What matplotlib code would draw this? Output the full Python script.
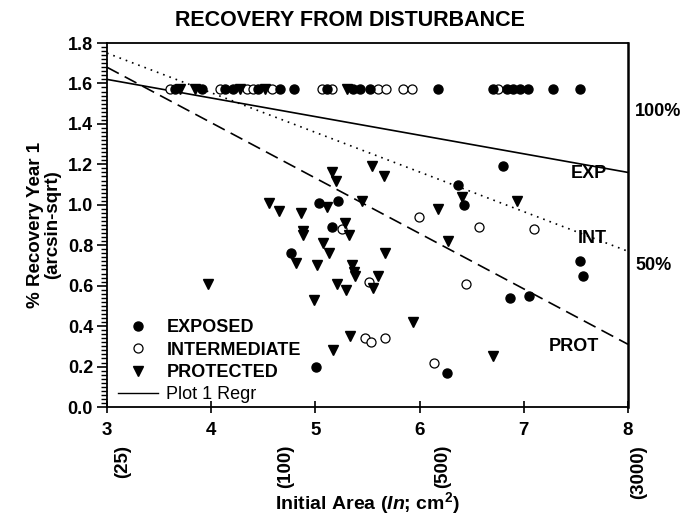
import numpy as np
import matplotlib
matplotlib.use("Agg")
import matplotlib.pyplot as plt
import matplotlib.transforms as mtransforms

plt.rcParams['font.family'] = ['Liberation Sans', 'DejaVu Sans']
plt.rcParams['mathtext.fontset'] = 'custom'
plt.rcParams['mathtext.rm'] = 'Liberation Sans:bold'
plt.rcParams['mathtext.it'] = 'Liberation Sans:italic:bold'
plt.rcParams['mathtext.bf'] = 'Liberation Sans:bold'

# ---- data (ln initial area, arcsin-sqrt recovery) ----
full_rec = np.pi / 2  # 100% recovery

exp_top_x = [3.65, 3.91, 4.13, 4.21, 4.45, 4.66, 4.79, 5.11, 5.36, 5.43, 5.52,
             6.18, 6.70, 6.84, 6.90, 6.96, 7.04, 7.28, 7.54]
exp_x = [5.03, 5.22, 5.16, 4.77, 5.01, 6.80, 6.37, 6.43, 7.54, 7.57, 6.87, 7.05, 6.26]
exp_y = [1.01, 1.02, 0.89, 0.76, 0.20, 1.19, 1.10, 1.00, 0.72, 0.65, 0.54, 0.55, 0.17]

int_top_x = [3.60, 4.08, 4.34, 4.40, 4.58, 5.06, 5.16, 5.60, 5.68, 5.84, 5.93, 6.75]
int_x = [5.26, 5.51, 5.48, 5.53, 5.67, 5.99, 6.57, 7.10, 6.45, 6.14]
int_y = [0.88, 0.62, 0.34, 0.32, 0.34, 0.94, 0.89, 0.88, 0.61, 0.22]

prot_top_x = [3.70, 3.84, 4.28, 4.52, 5.30]
prot_x = [5.54, 5.66, 5.16, 5.20, 4.55, 4.65, 4.86, 5.11, 5.45, 5.28, 5.32, 4.88,
          4.88, 5.07, 5.13, 5.67, 4.81, 5.02, 5.35, 5.37, 5.38, 5.60, 5.55, 5.21,
          5.29, 3.97, 4.99, 5.33, 5.17, 6.41, 6.93, 6.18, 6.27, 5.94, 6.70]
prot_y = [1.19, 1.14, 1.16, 1.12, 1.01, 0.97, 0.96, 0.99, 1.02, 0.91, 0.85, 0.87,
          0.85, 0.81, 0.76, 0.76, 0.71, 0.70, 0.70, 0.67, 0.65, 0.65, 0.59, 0.61,
          0.58, 0.61, 0.53, 0.35, 0.28, 1.04, 1.02, 0.98, 0.82, 0.42, 0.25]

# regression lines: intercept, slope
reg_names = ['EXP', 'INT', 'PROT']
reg_intercept = [1.896, 2.338, 2.502]
reg_slope = [-0.092, -0.196, -0.274]
reg_label_x = [7.80, 7.80, 7.72]
reg_label_y = [1.155, 0.835, 0.30]

area_cm2 = [25, 100, 500, 3000]
area_nudge = [-0.07, 0.11, 0.01, 0.10]   # hand placement in the original

fig = plt.figure(figsize=(6.82, 5.2), dpi=100)
ax = fig.add_axes([107/682, 1 - 407/520, 521/682, 364/520])

ms = 6.5
ax.plot(int_top_x, [full_rec]*len(int_top_x), 'o', mfc='white', mec='black', ms=ms, mew=0.9, zorder=3)
ax.plot(exp_top_x, [full_rec]*len(exp_top_x), 'o', color='black', ms=ms, zorder=3)
ax.plot(prot_top_x, [full_rec]*len(prot_top_x), 'v', color='black', ms=ms, zorder=3)

h_exp, = ax.plot(exp_x, exp_y, 'o', color='black', ms=ms, zorder=3)
h_int, = ax.plot(int_x, int_y, 'o', mfc='white', mec='black', ms=ms, mew=0.9, zorder=3)
h_prot, = ax.plot(prot_x, prot_y, 'v', color='black', ms=ms, zorder=3)

xs = np.array([3, 8])
styles = ['-', (0, (1, 3)), (0, (8, 4))]
for i in range(3):
    ax.plot(xs, reg_intercept[i] + reg_slope[i]*xs, color='black', lw=1.2,
            linestyle=styles[i], zorder=2)
    ax.text(reg_label_x[i], reg_label_y[i], reg_names[i], ha='right', va='center',
            fontsize=13, fontweight='bold')

h_line, = ax.plot([], [], '-', color='black', lw=1.0)

leg = ax.legend([h_exp, h_int, h_prot, h_line],
                ['EXPOSED', 'INTERMEDIATE', 'PROTECTED', 'Plot 1 Regr'],
                loc='lower left', bbox_to_anchor=(0.015, 0.0), frameon=False,
                fontsize=13, handlelength=2.2, handletextpad=0.45,
                labelspacing=0.3, borderpad=0.2, borderaxespad=0)
for t in leg.get_texts()[:3]:
    t.set_fontweight('bold')

ax.set_xlim(3, 8)
ax.set_ylim(0, 1.8)
ax.set_xticks([3, 4, 5, 6, 7, 8])
ax.set_yticks(np.arange(0, 1.81, 0.2))
ax.set_yticks(np.arange(0, 1.81, 0.02), minor=True)
ax.set_yticklabels(['%.1f' % v for v in np.arange(0, 1.81, 0.2)])
ax.tick_params(axis='y', which='major', direction='out', length=7, width=1.2,
               labelsize=13, pad=3)
ax.tick_params(axis='y', which='minor', direction='out', length=4, width=1.0)
ax.tick_params(axis='x', which='major', direction='inout', length=9, width=1.2,
               labelsize=13.5, pad=6)
for lab in ax.get_xticklabels() + ax.get_yticklabels():
    lab.set_fontweight('bold')
for sp in ax.spines.values():
    sp.set_linewidth(1.3)
ax.spines['right'].set_linewidth(1.8)

# cm2 equivalents under the ln axis
trans = mtransforms.blended_transform_factory(ax.transData, ax.transAxes)
for a, dx in zip(area_cm2, area_nudge):
    ax.text(np.log(a) + dx, -0.104, '(%d)' % a, transform=trans, rotation=90,
            ha='center', va='top', fontsize=13.5, fontweight='bold')

# right-side percentage marks
ax.text(8.07, 1.46, '100%', ha='left', va='center', fontsize=13, fontweight='bold', clip_on=False)
ax.text(8.07, 0.70, '50%', ha='left', va='center', fontsize=13, fontweight='bold', clip_on=False)

ax.set_title('RECOVERY FROM DISTURBANCE', fontsize=15.5, fontweight='bold', pad=12, x=0.466)
ax.set_ylabel('% Recovery Year 1\n(arcsin-sqrt)', fontsize=13.5, fontweight='bold',
              linespacing=1.0)
ax.yaxis.set_label_coords(-0.088, 0.5)
ax.set_xlabel(r'Initial Area ($\mathit{In}$; cm$^{2}$)', fontsize=14, fontweight='bold')
ax.xaxis.set_label_coords(0.5, -0.228)

fig.savefig('out.png', dpi=100)
